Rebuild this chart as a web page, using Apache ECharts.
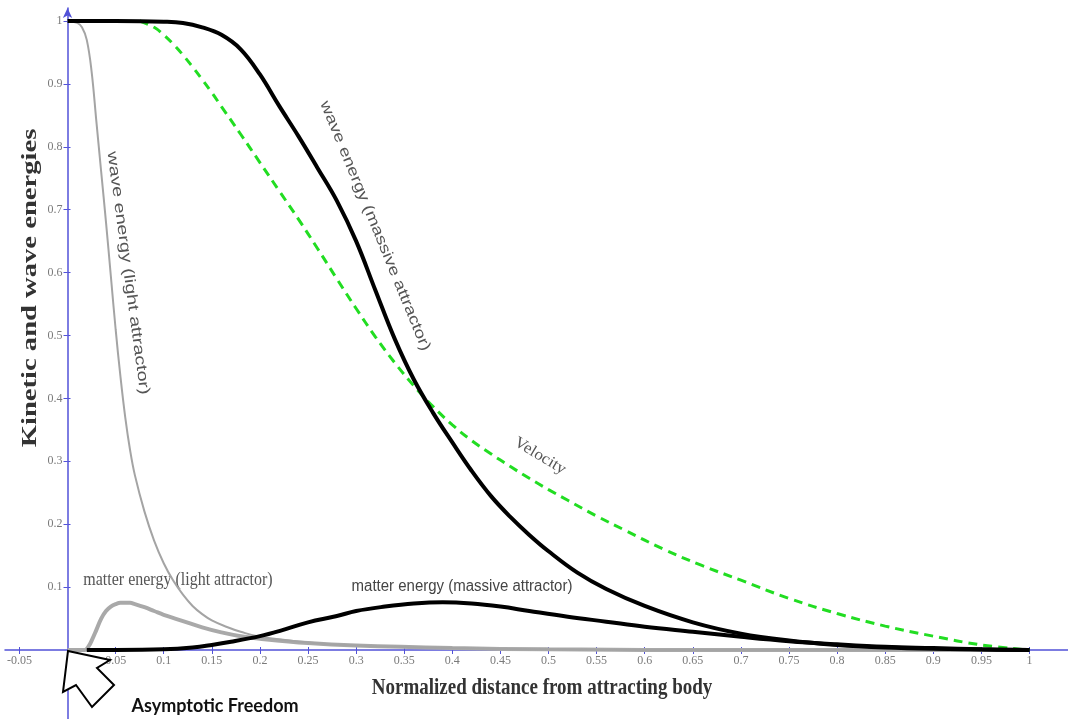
<!DOCTYPE html>
<html><head><meta charset="utf-8">
<script src="https://cdn.jsdelivr.net/npm/echarts@6/dist/echarts.min.js"></script>
<style>html,body{margin:0;padding:0;background:#fff}#c{width:1068px;height:719px}</style>
</head><body><div id="c"></div>
<script>
// ---- tick labels ----
const xTickValues = [-0.05, 0.05, 0.1, 0.15, 0.2, 0.25, 0.3, 0.35, 0.4, 0.45, 0.5, 0.55, 0.6, 0.65, 0.7, 0.75, 0.8, 0.85, 0.9, 0.95, 1];
const yTickValues = [0.1, 0.2, 0.3, 0.4, 0.5, 0.6, 0.7, 0.8, 0.9, 1];

// ---- wave energy (light attractor) ----
const lightWaveX = [0, 0.01, 0.015, 0.02, 0.025, 0.03, 0.035, 0.04, 0.045, 0.05, 0.055, 0.06, 0.065, 0.07, 0.08, 0.09, 0.1, 0.11, 0.12, 0.13, 0.14, 0.15, 0.165, 0.18, 0.2, 0.25, 0.3, 0.4, 0.5, 0.6, 0.8, 1.0];
const lightWaveY = [1, 0.997, 0.99, 0.97, 0.92, 0.84, 0.76, 0.68, 0.595, 0.51, 0.435, 0.37, 0.318, 0.278, 0.22, 0.174, 0.138, 0.11, 0.088, 0.07, 0.057, 0.047, 0.037, 0.029, 0.021, 0.012, 0.007, 0.003, 0.001, 0, 0, 0];

// ---- matter energy (light attractor) ----
const lightMatterX = [0, 0.01, 0.018, 0.022, 0.026, 0.03, 0.035, 0.04, 0.045, 0.05, 0.055, 0.06, 0.065, 0.07, 0.08, 0.09, 0.1, 0.12, 0.14, 0.16, 0.18, 0.2, 0.25, 0.3, 0.4, 0.5, 0.7, 1.0];
const lightMatterY = [0, 0, 0, 0.006, 0.018, 0.032, 0.05, 0.062, 0.069, 0.073, 0.075, 0.075, 0.075, 0.073, 0.068, 0.062, 0.056, 0.046, 0.036, 0.028, 0.022, 0.018, 0.011, 0.007, 0.003, 0.001, 0, 0];

// ---- wave energy (massive attractor) ----
const massiveWaveX = [0, 0.05, 0.1, 0.12, 0.14, 0.16, 0.18, 0.2, 0.22, 0.24, 0.26, 0.28, 0.3, 0.32, 0.34, 0.36, 0.38, 0.4, 0.42, 0.44, 0.46, 0.48, 0.5, 0.53, 0.56, 0.6, 0.65, 0.7, 0.75, 0.8, 0.85, 0.9, 1.0];
const massiveWaveY = [1, 1, 0.999, 0.997, 0.99, 0.978, 0.955, 0.915, 0.865, 0.817, 0.766, 0.714, 0.65, 0.572, 0.495, 0.43, 0.377, 0.33, 0.285, 0.245, 0.212, 0.183, 0.157, 0.123, 0.097, 0.07, 0.044, 0.026, 0.015, 0.008, 0.004, 0.002, 0];

// ---- matter energy (massive attractor) ----
const massiveMatterX = [0.02, 0.05, 0.1, 0.13, 0.15, 0.17, 0.2, 0.22, 0.25, 0.28, 0.3, 0.33, 0.36, 0.39, 0.42, 0.45, 0.48, 0.52, 0.56, 0.6, 0.65, 0.7, 0.75, 0.8, 0.85, 0.9, 0.95, 1.0];
const massiveMatterY = [0, 0, 0.001, 0.004, 0.008, 0.013, 0.022, 0.03, 0.044, 0.054, 0.062, 0.069, 0.074, 0.076, 0.074, 0.069, 0.062, 0.053, 0.045, 0.037, 0.029, 0.021, 0.014, 0.009, 0.005, 0.003, 0.001, 0];

// ---- velocity ----
const velocityX = [0.075, 0.09, 0.1, 0.11, 0.12, 0.13, 0.14, 0.15, 0.16, 0.18, 0.2, 0.22, 0.24, 0.26, 0.28, 0.3, 0.32, 0.34, 0.36, 0.38, 0.4, 0.42, 0.44, 0.46, 0.48, 0.5, 0.52, 0.55, 0.58, 0.62, 0.66, 0.7, 0.75, 0.8, 0.85, 0.9, 0.95, 1.0];
const velocityY = [1, 0.99, 0.978, 0.963, 0.946, 0.927, 0.907, 0.886, 0.864, 0.82, 0.775, 0.73, 0.685, 0.638, 0.59, 0.543, 0.498, 0.457, 0.42, 0.387, 0.358, 0.333, 0.312, 0.292, 0.273, 0.255, 0.238, 0.213, 0.19, 0.16, 0.134, 0.111, 0.082, 0.058, 0.038, 0.022, 0.008, 0];

const zip = (xs, ys) => xs.map((x, i) => [x, ys[i]]);

const AXIS_BLUE = '#5252d8';
const X_MIN = -0.065, X_MAX = 1.04, Y_MIN = -0.1097, Y_MAX = 1.0207;
const GRID = {left: 5, right: 0, top: 8, bottom: 0};
const W = 1068, H = 719;
// offsets that put each axis on the other's zero
const xZeroOffset = -((0 - Y_MIN) / (Y_MAX - Y_MIN)) * (H - GRID.top - GRID.bottom);
const yZeroOffset = -((0 - X_MIN) / (X_MAX - X_MIN)) * (W - GRID.left - GRID.right);
const fmt = v => String(+v.toFixed(2));

const chart = echarts.init(document.getElementById('c'), null, {renderer: 'canvas'});

const lineBase = {type: 'line', showSymbol: false, smooth: 0.4, silent: true};

const xBase = {type: 'value', min: X_MIN, max: X_MAX, position: 'bottom', offset: xZeroOffset, splitLine: {show: false}};
const yBase = {type: 'value', min: Y_MIN, max: Y_MAX, position: 'left', offset: yZeroOffset, splitLine: {show: false}};

chart.setOption({
  animation: false,
  backgroundColor: '#fff',
  grid: Object.assign({containLabel: false, outerBoundsMode: 'none'}, GRID),
  xAxis: [Object.assign({}, xBase, {
    axisLine: {show: true, onZero: false, lineStyle: {color: AXIS_BLUE, width: 1.5}},
    axisTick: {show: true, customValues: xTickValues, length: 4, lineStyle: {color: AXIS_BLUE}},
    axisLabel: {show: true, customValues: xTickValues, formatter: fmt, color: '#7a7a7a',
      fontFamily: 'Liberation Serif', fontSize: 12, margin: 5}
  }), Object.assign({}, xBase, {
    axisLine: {show: false, onZero: false},
    axisTick: {show: true, inside: true, customValues: xTickValues, length: 3, lineStyle: {color: AXIS_BLUE}},
    axisLabel: {show: false}
  })],
  yAxis: [Object.assign({}, yBase, {
    axisLine: {show: true, onZero: false, symbol: ['none', 'arrow'], symbolSize: [7, 10], lineStyle: {color: AXIS_BLUE, width: 1.5}},
    axisTick: {show: true, customValues: yTickValues, length: 4, lineStyle: {color: AXIS_BLUE}},
    axisLabel: {show: true, customValues: yTickValues, formatter: fmt, color: '#7a7a7a',
      fontFamily: 'Liberation Serif', fontSize: 12, margin: 5}
  }), Object.assign({}, yBase, {
    axisLine: {show: false, onZero: false},
    axisTick: {show: true, inside: true, customValues: yTickValues, length: 3, lineStyle: {color: AXIS_BLUE}},
    axisLabel: {show: false}
  })],
  series: [
    Object.assign({}, lineBase, {name: 'matter energy (light attractor)', data: zip(lightMatterX, lightMatterY),
      lineStyle: {color: '#a9a9a9', width: 4}, z: 2}),
    Object.assign({}, lineBase, {name: 'wave energy (light attractor)', data: zip(lightWaveX, lightWaveY),
      lineStyle: {color: '#a4a4a4', width: 2}, z: 3}),
    Object.assign({}, lineBase, {name: 'Velocity', data: zip(velocityX, velocityY),
      lineStyle: {color: '#22dd22', width: 3, type: [9, 6]}, z: 4}),
    Object.assign({}, lineBase, {name: 'matter energy (massive attractor)', data: zip(massiveMatterX, massiveMatterY),
      lineStyle: {color: '#000', width: 4}, z: 5}),
    Object.assign({}, lineBase, {name: 'wave energy (massive attractor)', data: zip(massiveWaveX, massiveWaveY),
      lineStyle: {color: '#000', width: 4}, z: 6})
  ],
  graphic: [
    {type: 'text', x: 31, y: 288, rotation: Math.PI / 2, scaleX: 1.43,
      style: {text: 'Kinetic and wave energies', font: 'bold 20px "Liberation Serif"', fill: '#333', align: 'center', verticalAlign: 'middle'}},
    {type: 'text', x: 542, y: 688, scaleY: 1.25,
      style: {text: 'Normalized distance from attracting body', font: 'bold 19px "Liberation Serif"', fill: '#333', align: 'center', verticalAlign: 'middle'}},
    {type: 'text', x: 128, y: 273, rotation: -1.436, scaleX: 1.32,
      style: {text: 'wave energy (light attractor)', font: '15px "Liberation Sans"', fill: '#555', align: 'center', verticalAlign: 'middle'}},
    {type: 'text', x: 375, y: 226, rotation: -1.18, scaleX: 1.26,
      style: {text: 'wave energy (massive attractor)', font: '15px "Liberation Sans"', fill: '#555', align: 'center', verticalAlign: 'middle'}},
    {type: 'text', x: 540, y: 456, rotation: -0.54, scaleX: 1.08,
      style: {text: 'Velocity', font: '16px "Liberation Serif"', fill: '#555', align: 'center', verticalAlign: 'middle'}},
    {type: 'text', x: 178, y: 580, scaleY: 1.2,
      style: {text: 'matter energy (light attractor)', font: '16px "Liberation Serif"', fill: '#555', align: 'center', verticalAlign: 'middle'}},
    {type: 'text', x: 462, y: 586, scaleY: 1.15,
      style: {text: 'matter energy (massive attractor)', font: '15px "Liberation Sans"', fill: '#444', align: 'center', verticalAlign: 'middle'}},
    {type: 'text', x: 215, y: 706,
      style: {text: 'Asymptotic Freedom', font: 'bold 18px Lato', fill: '#111', align: 'center', verticalAlign: 'middle'}},
    {type: 'polygon', z: 100,
      shape: {points: [[68, 651], [110, 660], [97, 668], [114, 685], [92, 707], [76, 685], [63, 692]]},
      style: {fill: '#fff', stroke: '#000', lineWidth: 2, lineJoin: 'miter'}}
  ]
});
</script>
</body></html>
